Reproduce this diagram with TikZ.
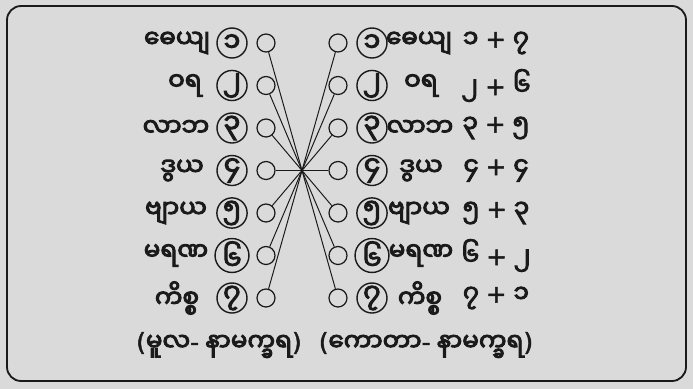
\documentclass[tikz,border=0pt]{standalone}
\usepackage{fontspec}
\usepackage{tikz}
\usetikzlibrary{positioning}
\newfontfamily\mmfont[Script=Myanmar,FakeBold=4]{Noto Sans Myanmar UI}
\newfontfamily\symfont[FakeBold=2]{DejaVu Sans}
\newcommand{\sym}[1]{{\symfont #1}}
\definecolor{paper}{HTML}{DADADA}
\definecolor{ink}{HTML}{1A1A1A}

\begin{document}
\begin{tikzpicture}[
    x=0.025cm, y=-0.025cm,
    font=\mmfont\fontsize{17.5}{20}\selectfont,
    % Frame styling
    frame/.style={draw=ink, line width=1.3pt, rounded corners=10pt},
    % Circle styling
    numring/.style={draw=ink, line width=1pt, circle, minimum size=0.75cm, inner sep=0pt, text=ink, font=\mmfont\fontsize{19}{21}\selectfont},
    joint/.style={draw=ink, line width=0.9pt, circle, minimum size=0.45cm, inner sep=0pt},
    % Text styling
    term/.style={text=ink, inner sep=0pt, anchor=center},
    sumlabel/.style={text=ink, inner sep=0pt, anchor=center},
    % Connector styling
    spoke/.style={draw=ink, line width=0.7pt}
]

% ---------------------------------------------------
% 0. PAPER AND FRAME
% ---------------------------------------------------
\fill[paper] (0,0) rectangle (693,389);
\useasboundingbox (0,0) rectangle (693,389);
\draw[frame] (7,6) rectangle (686,381);

% ---------------------------------------------------
% 1. LEFT COLUMN (names, numbers, joints)
% ---------------------------------------------------
\node[term] (lterm1) at (177, 43) {ဓေယျ};
\node[term] (lterm2) at (185, 85.5) {ဝရ};
\node[term] (lterm3) at (176, 128) {လာဘ};
\node[term] (lterm4) at (182, 170.5) {ဒွယ};
\node[term] (lterm5) at (176, 213) {ဗျာယ};
\node[term] (lterm6) at (176, 255.5) {မရဏ};
\node[term] (lterm7) at (177, 298) {ကိစ္စ};

\node[numring] (lnum1) at (232, 43) {၁};
\node[numring] (lnum2) at (232, 85.5) {၂};
\node[numring] (lnum3) at (232, 128) {၃};
\node[numring] (lnum4) at (232, 170.5) {၄};
\node[numring] (lnum5) at (232, 213) {၅};
\node[numring] (lnum6) at (232, 255.5) {၆};
\node[numring] (lnum7) at (232, 298) {၇};

\node[joint] (ljoint1) at (266, 43) {};
\node[joint] (ljoint2) at (266, 85.5) {};
\node[joint] (ljoint3) at (266, 128) {};
\node[joint] (ljoint4) at (266, 170.5) {};
\node[joint] (ljoint5) at (266, 213) {};
\node[joint] (ljoint6) at (266, 255.5) {};
\node[joint] (ljoint7) at (266, 298) {};

% ---------------------------------------------------
% 2. RIGHT COLUMN (joints, numbers, names, sums)
% ---------------------------------------------------
\node[joint] (rjoint1) at (338, 43) {};
\node[joint] (rjoint2) at (338, 85.5) {};
\node[joint] (rjoint3) at (338, 128) {};
\node[joint] (rjoint4) at (338, 170.5) {};
\node[joint] (rjoint5) at (338, 213) {};
\node[joint] (rjoint6) at (338, 255.5) {};
\node[joint] (rjoint7) at (338, 298) {};

\node[numring] (rnum1) at (372, 43) {၁};
\node[numring] (rnum2) at (372, 85.5) {၂};
\node[numring] (rnum3) at (372, 128) {၃};
\node[numring] (rnum4) at (372, 170.5) {၄};
\node[numring] (rnum5) at (372, 213) {၅};
\node[numring] (rnum6) at (372, 255.5) {၆};
\node[numring] (rnum7) at (372, 298) {၇};

\node[term] (rterm1) at (419, 43) {ဓေယျ};
\node[term] (rterm2) at (421, 85.5) {ဝရ};
\node[term] (rterm3) at (420, 128) {လာဘ};
\node[term] (rterm4) at (421, 170.5) {ဒွယ};
\node[term] (rterm5) at (419, 213) {ဗျာယ};
\node[term] (rterm6) at (421, 255.5) {မရဏ};
\node[term] (rterm7) at (420, 298) {ကိစ္စ};

\node[sumlabel] (sum1) at (496, 43) {၁\hspace{5pt}\sym{+}\hspace{5pt}၇};
\node[sumlabel] (sum2) at (496, 85.5) {၂\hspace{5pt}\sym{+}\hspace{5pt}၆};
\node[sumlabel] (sum3) at (496, 128) {၃\hspace{5pt}\sym{+}\hspace{5pt}၅};
\node[sumlabel] (sum4) at (496, 170.5) {၄\hspace{5pt}\sym{+}\hspace{5pt}၄};
\node[sumlabel] (sum5) at (496, 213) {၅\hspace{5pt}\sym{+}\hspace{5pt}၃};
\node[sumlabel] (sum6) at (496, 255.5) {၆\hspace{5pt}\sym{+}\hspace{5pt}၂};
\node[sumlabel] (sum7) at (496, 298) {၇\hspace{5pt}\sym{+}\hspace{5pt}၁};

% Column captions
\node[term] (lcaption) at (219, 345) {\sym{(}မူလ\sym{-} နာမက္ခရ\sym{)}};
\node[term] (rcaption) at (426, 345) {\sym{(}ကောတာ\sym{-} နာမက္ခရ\sym{)}};

% ---------------------------------------------------
% 3. CONNECTIONS (all crossing at one centre point)
% ---------------------------------------------------
\draw[spoke] (ljoint1) -- (rjoint7);
\draw[spoke] (ljoint2) -- (rjoint6);
\draw[spoke] (ljoint3) -- (rjoint5);
\draw[spoke] (ljoint4) -- (rjoint4);
\draw[spoke] (ljoint5) -- (rjoint3);
\draw[spoke] (ljoint6) -- (rjoint2);
\draw[spoke] (ljoint7) -- (rjoint1);

\end{tikzpicture}
\end{document}
